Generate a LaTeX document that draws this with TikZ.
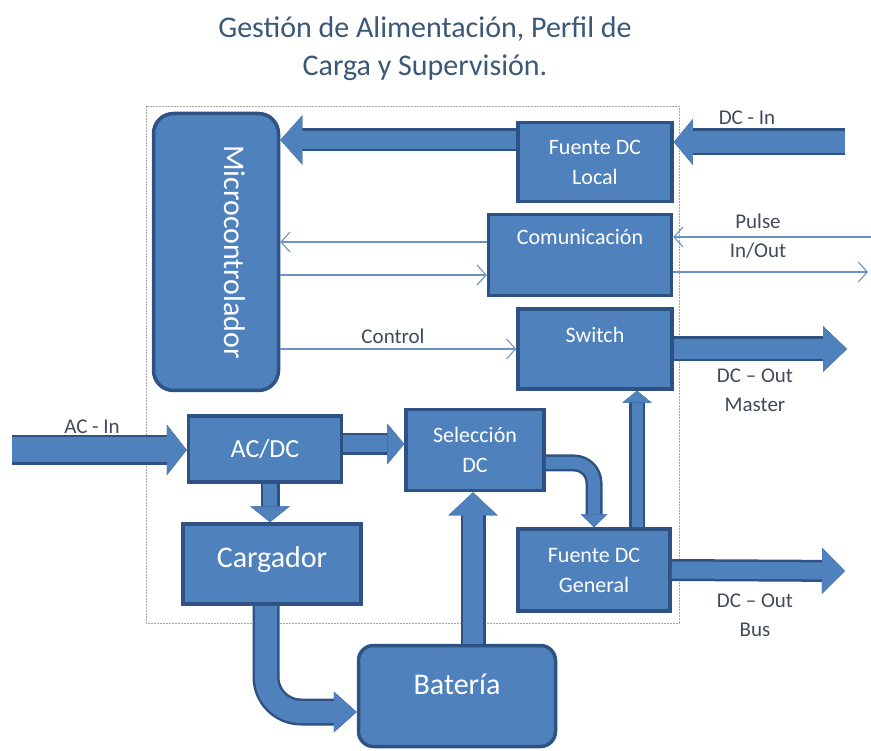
\documentclass[tikz,border=0pt]{standalone}
\usepackage{fontspec}
\setmainfont{Carlito}
\usetikzlibrary{arrows.meta,positioning}
\definecolor{boxfill}{HTML}{4F81BD}
\definecolor{boxedge}{HTML}{2F5284}
\definecolor{thinline}{HTML}{6A92C4}
\definecolor{labelcol}{HTML}{404A5A}
\definecolor{titlecol}{HTML}{3B5878}
\begin{document}
\begin{tikzpicture}
[x=1pt, y=-1pt,
 blk/.style={draw=boxedge, fill=boxfill, line width=3.5pt, text=white, align=center, font=\fontsize{22}{30}\selectfont},
 lbl/.style={text=labelcol, align=center, font=\fontsize{21}{29}\selectfont},
 fat/.style n args={3}{draw=boxfill, line width=#1, -{Triangle[width=#2,length=#3,line width=0pt]},
   preaction={draw=boxedge, line width=#1+5pt, -{Triangle[width=#2,length=#3,line width=5pt]}}},
 thinarr/.style={draw=thinline, line width=1.1pt, -{Straight Barb[length=9pt,width=20pt]}}]
\useasboundingbox (0,0) rectangle (871,751);
\node[text=titlecol, align=center, font=\fontsize{30}{38}\selectfont] (title) at (425,49) {Gestión de Alimentación, Perfil de\\Carga y Supervisión.};
\draw[gray!70, line width=0.8pt, dash pattern=on 2pt off 1pt] (146,106) rectangle (679,623);
\node[blk, rounded corners=20pt, minimum width=125pt, minimum height=277pt] (mc) at (216,252) {};
\node[rotate=-90, text=white, font=\fontsize{30}{30}\selectfont] (mctext) at (235,252) {Microcontrolador};
\node[blk, minimum width=154pt, minimum height=79pt] (fdl) at (595,162) {Fuente DC\\Local};
\node[blk, minimum width=183pt, minimum height=81pt, text depth=36pt] (com) at (580,255) {Comunicación};
\node[blk, minimum width=154pt, minimum height=80pt, text depth=29pt] (sw) at (595,349) {Switch};
\node[blk, minimum width=153pt, minimum height=66pt, font=\fontsize{26}{30}\selectfont] (acdc) at (265,449) {AC/DC};
\node[blk, minimum width=138pt, minimum height=81pt] (sel) at (475,450) {Selección\\DC};
\node[blk, minimum width=178pt, minimum height=80pt, font=\fontsize{30}{30}\selectfont, text depth=14pt] (carg) at (272,564) {Cargador};
\node[blk, minimum width=152pt, minimum height=82pt] (fdg) at (594,570) {Fuente DC\\General};
\node[blk, rounded corners=15pt, minimum width=197pt, minimum height=101pt, font=\fontsize{30}{30}\selectfont, text depth=24pt] (bat) at (457,696) {Batería};
\coordinate (dcin) at (845,142);
\coordinate (pin) at (871,237);
\coordinate (pout) at (868,272);
\coordinate (mout) at (847,349);
\coordinate (acin) at (12,450);
\coordinate (bout) at (845,571);
\draw[fat={18pt}{48pt}{22pt}] ([yshift=22pt]fdl.west) -- ([yshift=22pt]fdl.west -| mc.east);
\draw[fat={22pt}{45pt}{19pt}] (dcin) -- (dcin -| fdl.east);
\draw[thinarr] ([yshift=13pt]com.west) -- ([yshift=13pt]com.west -| mc.east);
\draw[thinarr] ([yshift=-20pt]com.west -| mc.east) -- ([yshift=-20pt]com.west);
\draw[thinarr] (pin) -- (pin -| com.east);
\draw[thinarr] (pout -| com.east) -- (pout);
\draw[thinarr] (sw.west -| mc.east) -- (sw.west);
\draw[fat={20pt}{45pt}{24pt}] (sw.east) -- (mout);
\draw[fat={25pt}{50pt}{20pt}] (acin) -- (acin -| acdc.west);
\draw[fat={17pt}{40pt}{17pt}] ([yshift=5pt]acdc.east) -- ([yshift=5pt]acdc.east -| sel.west);
\draw[fat={14pt}{39pt}{16pt}] ([xshift=5pt]acdc.south) -- ([xshift=5pt]acdc.south |- carg.north);
\draw[fat={22pt}{40pt}{23pt}, rounded corners=35pt] ([xshift=-6pt]carg.south) |- ([yshift=-16pt]bat.west);
\draw[fat={20pt}{48pt}{23pt}] ([xshift=16pt]bat.north) -- ([xshift=16pt]bat.north |- sel.south);
\draw[fat={12pt}{26pt}{13pt}, rounded corners=20pt] ([yshift=-13pt]sel.east) -| (fdg.north);
\draw[fat={11pt}{29pt}{12pt}] ([xshift=43pt]fdg.north) -- ([xshift=43pt]fdg.north |- sw.south);
\draw[fat={17pt}{45pt}{23pt}] (fdg.east) -- (bout);
\node[lbl] (dcinlbl) at (747,118) {DC - In};
\node[lbl] (pulselbl) at (758,236) {Pulse\\In/Out};
\node[lbl] (ctrllbl) at (393,336) {Control};
\node[lbl] (mlbl) at (755,390) {DC – Out\\Master};
\node[lbl] (aclbl) at (92,427) {AC - In};
\node[lbl] (blbl) at (755,615) {DC – Out\\Bus};
\end{tikzpicture}
\end{document}
